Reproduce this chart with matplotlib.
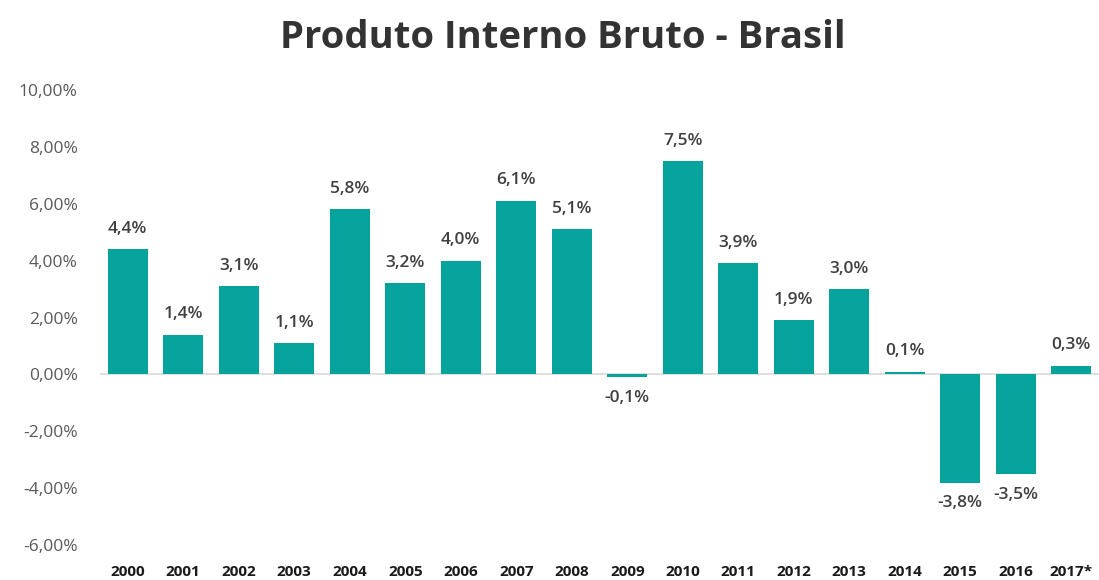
import matplotlib
matplotlib.use("Agg")
import matplotlib.pyplot as plt
from matplotlib.ticker import FuncFormatter

years = ["2000", "2001", "2002", "2003", "2004", "2005", "2006", "2007", "2008",
         "2009", "2010", "2011", "2012", "2013", "2014", "2015", "2016", "2017*"]
growth = [4.4, 1.4, 3.1, 1.1, 5.8, 3.2, 4.0, 6.1, 5.1,
          -0.1, 7.5, 3.9, 1.9, 3.0, 0.1, -3.8, -3.5, 0.3]
yticks = [-6, -4, -2, 0, 2, 4, 6, 8, 10]

plt.rcParams['font.family'] = ['Open Sans', 'DejaVu Sans']

fig = plt.figure(figsize=(10.99, 5.8), dpi=100)
ax = fig.add_axes([0.091, 0.060, 0.909, 0.785])

color = '#06a39d'
x = list(range(len(years)))
bars = ax.bar(x, growth, width=0.72, color=color, zorder=3)
ax.axhline(0, color='#d9d9d9', lw=1.2, zorder=2)

ax.set_xlim(-0.5, len(years) - 0.5)
ax.set_ylim(-6, 10)
ax.set_yticks(yticks)
ax.yaxis.set_major_formatter(FuncFormatter(lambda v, p: f"{v:.2f}%".replace('.', ',')))
ax.set_xticks(x)
ax.set_xticklabels(years, fontsize=11, fontweight='bold', color='#1a1a1a')
ax.tick_params(axis='y', length=0, labelsize=12.5, labelcolor='#595959', pad=16)
ax.tick_params(axis='x', length=0, pad=14)
for s in ax.spines.values():
    s.set_visible(False)

for xi, v in zip(x, growth):
    lab = f"{v:.1f}%".replace('.', ',')
    if v >= 0:
        ax.annotate(lab, (xi, v), xytext=(0, 9), textcoords='offset points',
                    ha='center', va='bottom', fontsize=12.5, fontweight='semibold', color='#404040')
    else:
        ax.annotate(lab, (xi, v), xytext=(0, -9), textcoords='offset points',
                    ha='center', va='top', fontsize=12.5, fontweight='semibold', color='#404040')

fig.text(0.512, 0.935, "Produto Interno Bruto - Brasil", ha='center', va='center',
         fontsize=27.5, fontweight='bold', color='#333333')

fig.savefig("out.png", dpi=100)
